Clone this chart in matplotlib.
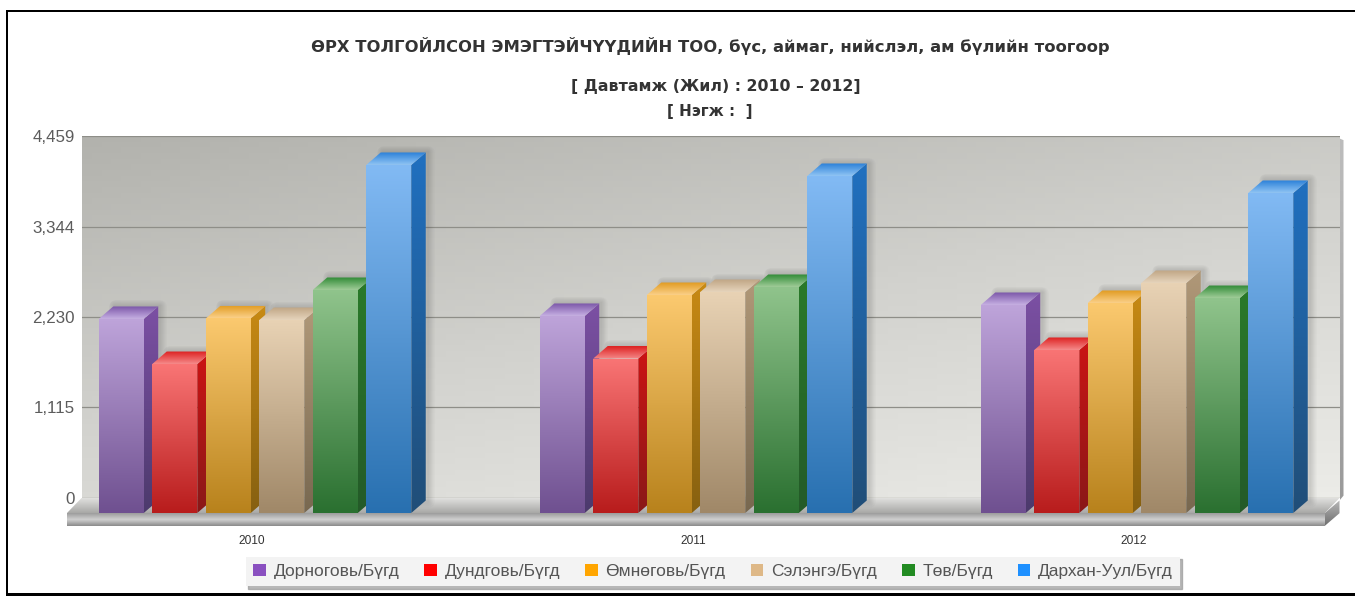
#Household heads chart, 3D look bars drawn by hand on two axes
import numpy as np
import matplotlib
matplotlib.use('Agg')
import matplotlib.pyplot as plt
from matplotlib.colors import LinearSegmentedColormap
from matplotlib.patches import Polygon, Rectangle
from matplotlib.ticker import FuncFormatter

plt.rcParams['font.family'] = ['Liberation Sans', 'DejaVu Sans']

#values
years = [2010, 2011, 2012]
names = ['Дорноговь/Бүгд', 'Дундговь/Бүгд', 'Өмнөговь/Бүгд', 'Сэлэнгэ/Бүгд', 'Төв/Бүгд', 'Дархан-Уул/Бүгд']
dornogovi = [2390, 2427, 2562]
dundgovi = [1835, 1903, 2008]
umnugovi = [2396, 2685, 2587]
selenge = [2377, 2722, 2833]
tuv = [2747, 2784, 2648]
darkhan = [4287, 4151, 3942]
series = [dornogovi, dundgovi, umnugovi, selenge, tuv, darkhan]
y_ticks = [0, 1115, 2230, 3344, 4459]

#colours: legend, front top, front bottom, side top, side bottom, lid back, lid front
legend_colors = ['#8a50c0', '#ff0000', '#ffa500', '#deb887', '#228b22', '#1e90ff']
front_top = ['#bea4da', '#f97575', '#fbc96f', '#e8d2b4', '#90c48c', '#82baf4']
front_bot = ['#6f5090', '#b81c1c', '#b8821c', '#a08868', '#2a7030', '#2870b0']
side_top = ['#7c50a4', '#cc1414', '#c88a14', '#b09878', '#2a7a2a', '#2070c0']
side_bot = ['#4c3a6c', '#8a1818', '#866010', '#786850', '#245a28', '#204e78']
lid_back = ['#7a55a8', '#dd2020', '#e09a20', '#bfa584', '#2f8a35', '#2a80d8']
lid_front = ['#c6b0e2', '#f58a8a', '#fbd088', '#e6d4bc', '#a0cc98', '#90c4f4']

W, H = 1355, 596
fig = plt.figure(figsize=(W/100, H/100), dpi=100, facecolor='white')

def fig_rect(x0, y_top, x1, y_bot):
    return [x0/W, 1-y_bot/H, (x1-x0)/W, (y_bot-y_top)/H]

#outer black border
for r in [(6, 10, 8, 596), (6, 10, 1355, 12), (6, 593, 1355, 595.5)]:
    fig.add_artist(Rectangle((r[0]/W, 1-r[3]/H), (r[2]-r[0])/W, (r[3]-r[1])/H, transform=fig.transFigure, color='black', lw=0))

#back wall
back = fig.add_axes(fig_rect(82, 136, 1340, 498))
back.set_ylim(0, 4459)
back.set_xlim(0, 1)
back.set_autoscale_on(False)
yy, xx = np.mgrid[0:1:64j, 0:1:128j]
wall = LinearSegmentedColormap.from_list('wall', ['#b2b2ad', '#d2d2ce', '#ecece8'])
back.imshow(0.62*yy + 0.38*xx, extent=(0, 1, 0, 4459), aspect='auto', cmap=wall, vmin=0, vmax=1, zorder=0)
back.set_yticks(y_ticks)
back.yaxis.set_major_formatter(FuncFormatter(lambda v, p: format(int(v), ',')))
back.set_xticks([])
back.tick_params(axis='y', length=0, pad=5, labelsize=12.2, labelcolor='#5c5c5c')
back.grid(axis='y', color='#8e8e88', lw=0.9, zorder=1)
for s in back.spines.values():
    s.set_visible(False)

#front plane, bars live here
px_per_group = 441.0
front = fig.add_axes(fig_rect(67, 151, 1325, 513), facecolor='none')
front.set_xlim(2010+(67-255)/px_per_group, 2010+(1325-255)/px_per_group)
front.set_ylim(0, 4459)
front.set_autoscale_on(False)
for s in front.spines.values():
    s.set_visible(False)
front.set_yticks([])
front.set_xticks([y-3/px_per_group for y in years])
front.set_xticklabels([str(y) for y in years])
front.tick_params(axis='x', length=0, pad=16, labelsize=8.6, labelcolor='#333333')

dx = 14.5/px_per_group
dy = 12.5*4459/362
bar_w = 45/px_per_group
pitch = 53.5/px_per_group

def grad_poly(verts, colors, z):
    cmap = LinearSegmentedColormap.from_list('g', colors)
    vs = np.array(verts)
    ext = (vs[:, 0].min(), vs[:, 0].max(), vs[:, 1].min(), vs[:, 1].max())
    g = np.linspace(0, 1, 128).reshape(-1, 1)
    im = front.imshow(g, extent=ext, aspect='auto', cmap=cmap, zorder=z, interpolation='bilinear')
    im.set_clip_box(fig.bbox)
    im.set_clip_path(Polygon(verts, transform=front.transData))
    return im

#floor slab, back edge runs a bit high so no gap shows under the wall
x_l, x_r = front.get_xlim()
floor_h = 12.7*4459/362
floor_back = 15*4459/362
grad_poly([(x_l, 0), (x_l+dx, floor_back), (x_r+dx, floor_back), (x_r, 0)], ['#e0e0de', '#a8a8a6'], 2)
grad_poly([(x_l, 0), (x_r, 0), (x_r, -floor_h), (x_l, -floor_h)], ['#9c9c9c', '#d0d0d0', '#8a8a8a'], 2)
grad_poly([(x_r, 0), (x_r+dx, dy), (x_r+dx, dy-floor_h), (x_r, -floor_h)], ['#b8b8b8', '#6e6e6e'], 2)
#strip on right edge of the wall
grad_poly([(x_r+dx, dy), (x_r+dx, 4459+dy), (x_r+dx+4/px_per_group, 4459+dy-20), (x_r+dx+4/px_per_group, dy+60)], ['#bdbdbd', '#9a9a9a'], 2)

#soft shadows first so bars sit on top of them, pushed right of the bar
shift = 2/px_per_group
for i, vals in enumerate(series):
    for g, year in enumerate(years):
        x0 = year - 3*pitch + (pitch-bar_w)/2 + i*pitch
        v = vals[g]
        out = [(x0+shift+dx, dy), (x0+shift+dx, v+dy), (x0+bar_w+dx+shift, v+dy), (x0+bar_w+dx+shift, dy)]
        for k in range(1, 7):
            front.add_patch(Polygon(out, closed=True, fc='none', ec='#404040', lw=k*1.5, alpha=0.03, zorder=3, clip_on=False, joinstyle='round'))

#bars, left to right so next bar hides the side of the last one
for i, vals in enumerate(series):
    for g, year in enumerate(years):
        x0 = year - 3*pitch + (pitch-bar_w)/2 + i*pitch
        x1 = x0 + bar_w
        v = vals[g]
        z = 4 + i*0.1
        grad_poly([(x1, 0), (x1+dx, dy), (x1+dx, v+dy), (x1, v)], [side_top[i], side_bot[i]], z)
        grad_poly([(x0, v), (x0+dx, v+dy), (x1+dx, v+dy), (x1, v)], [lid_back[i], lid_front[i]], z)
        grad_poly([(x0, 0), (x0, v), (x1, v), (x1, 0)], [front_top[i], front_bot[i]], z)

#titles, wide bold face because the original is letter spaced
title_font = dict(ha='center', va='center', fontweight='bold', color='#333333', family='DejaVu Sans')
fig.text(710/W, 1-46/H, 'ӨРХ ТОЛГОЙЛСОН ЭМЭГТЭЙЧҮҮДИЙН ТОО, бүс, аймаг, нийслэл, ам бүлийн тоогоор', fontsize=11.8, **title_font)
fig.text(716/W, 1-87/H, '[ Давтамж (Жил) : 2010 – 2012]', fontsize=11.3, **title_font)
fig.text(710/W, 1-112/H, '[ Нэгж :  ]', fontsize=10.9, **title_font)

#legend
handles = [Rectangle((0, 0), 1, 1, color=c, lw=0) for c in legend_colors]
leg = fig.legend(handles, names, ncol=6, loc='center', bbox_to_anchor=(713/W, 1-571.5/H), fontsize=12.5,
                 frameon=True, fancybox=False, facecolor='#f3f3f3', edgecolor='none', framealpha=1,
                 handlelength=0.72, handleheight=0.72, handletextpad=0.45, columnspacing=1.45, borderpad=0.42,
                 labelcolor='#555555', shadow={'color': '#999999', 'alpha': 0.7, 'ox': 1.5, 'oy': -1.5})

fig.savefig('out.png', dpi=100, facecolor='white')
